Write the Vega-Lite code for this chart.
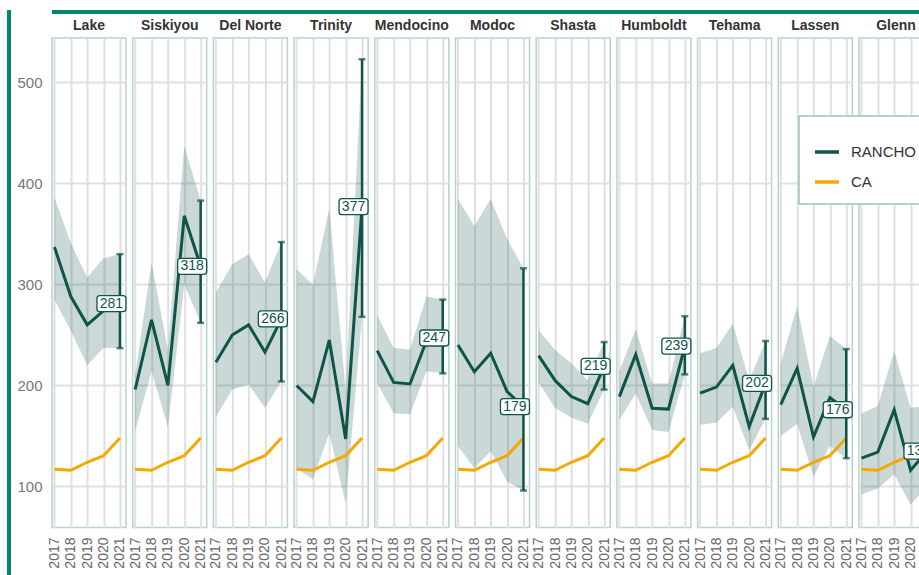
{
  "$schema": "https://vega.github.io/schema/vega-lite/v6.json",
  "background": "white",
  "padding": {"left": 7, "top": 10, "right": 0, "bottom": 0},
  "spacing": 0,
  "hconcat": [
    {
      "width": 4,
      "height": 565,
      "data": {"values": [{}]},
      "mark": {"type": "point", "opacity": 0, "size": 1},
      "view": {"fill": "#03866b", "stroke": null}
    },
    {
      "spacing": 5,
      "vconcat": [
        {
          "width": 925,
          "height": 4,
          "data": {"values": [{}]},
          "mark": {"type": "point", "opacity": 0, "size": 1},
          "view": {"fill": "#03866b", "stroke": null}
        },
        {
          "data": {"values": [
            {"county":"Lake","year":2017,"series":"RANCHO","value":337,"lo":285,"hi":386},
            {"county":"Lake","year":2018,"series":"RANCHO","value":288,"lo":254,"hi":341},
            {"county":"Lake","year":2019,"series":"RANCHO","value":260,"lo":220,"hi":307},
            {"county":"Lake","year":2020,"series":"RANCHO","value":274,"lo":237,"hi":326},
            {"county":"Lake","year":2021,"series":"RANCHO","value":281,"lo":237,"hi":330},
            {"county":"Siskiyou","year":2017,"series":"RANCHO","value":196,"lo":155,"hi":210},
            {"county":"Siskiyou","year":2018,"series":"RANCHO","value":265,"lo":214,"hi":322},
            {"county":"Siskiyou","year":2019,"series":"RANCHO","value":200,"lo":159,"hi":235},
            {"county":"Siskiyou","year":2020,"series":"RANCHO","value":368,"lo":300,"hi":437},
            {"county":"Siskiyou","year":2021,"series":"RANCHO","value":318,"lo":262,"hi":383},
            {"county":"Del Norte","year":2017,"series":"RANCHO","value":223,"lo":169,"hi":292},
            {"county":"Del Norte","year":2018,"series":"RANCHO","value":250,"lo":196,"hi":320},
            {"county":"Del Norte","year":2019,"series":"RANCHO","value":260,"lo":201,"hi":330},
            {"county":"Del Norte","year":2020,"series":"RANCHO","value":233,"lo":178,"hi":302},
            {"county":"Del Norte","year":2021,"series":"RANCHO","value":266,"lo":204,"hi":342},
            {"county":"Trinity","year":2017,"series":"RANCHO","value":200,"lo":118,"hi":315},
            {"county":"Trinity","year":2018,"series":"RANCHO","value":184,"lo":107,"hi":300},
            {"county":"Trinity","year":2019,"series":"RANCHO","value":245,"lo":153,"hi":375},
            {"county":"Trinity","year":2020,"series":"RANCHO","value":147,"lo":83,"hi":195},
            {"county":"Trinity","year":2021,"series":"RANCHO","value":377,"lo":268,"hi":523},
            {"county":"Mendocino","year":2017,"series":"RANCHO","value":234.5,"lo":202,"hi":270},
            {"county":"Mendocino","year":2018,"series":"RANCHO","value":203,"lo":172.5,"hi":237},
            {"county":"Mendocino","year":2019,"series":"RANCHO","value":201.5,"lo":171.5,"hi":235.5},
            {"county":"Mendocino","year":2020,"series":"RANCHO","value":244,"lo":214,"hi":288},
            {"county":"Mendocino","year":2021,"series":"RANCHO","value":247,"lo":212,"hi":285},
            {"county":"Modoc","year":2017,"series":"RANCHO","value":240,"lo":140,"hi":384.5},
            {"county":"Modoc","year":2018,"series":"RANCHO","value":213.6,"lo":118,"hi":358},
            {"county":"Modoc","year":2019,"series":"RANCHO","value":232,"lo":135,"hi":384.5},
            {"county":"Modoc","year":2020,"series":"RANCHO","value":194,"lo":105,"hi":345},
            {"county":"Modoc","year":2021,"series":"RANCHO","value":179,"lo":96,"hi":316},
            {"county":"Shasta","year":2017,"series":"RANCHO","value":229.5,"lo":203,"hi":255},
            {"county":"Shasta","year":2018,"series":"RANCHO","value":205,"lo":178,"hi":235},
            {"county":"Shasta","year":2019,"series":"RANCHO","value":189,"lo":168,"hi":222},
            {"county":"Shasta","year":2020,"series":"RANCHO","value":182,"lo":162,"hi":205},
            {"county":"Shasta","year":2021,"series":"RANCHO","value":219,"lo":196,"hi":243},
            {"county":"Humboldt","year":2017,"series":"RANCHO","value":189,"lo":166,"hi":214},
            {"county":"Humboldt","year":2018,"series":"RANCHO","value":230.5,"lo":192,"hi":256},
            {"county":"Humboldt","year":2019,"series":"RANCHO","value":177.5,"lo":156,"hi":202},
            {"county":"Humboldt","year":2020,"series":"RANCHO","value":176.6,"lo":154,"hi":202},
            {"county":"Humboldt","year":2021,"series":"RANCHO","value":239,"lo":211,"hi":268.5},
            {"county":"Tehama","year":2017,"series":"RANCHO","value":192.5,"lo":161,"hi":232},
            {"county":"Tehama","year":2018,"series":"RANCHO","value":198.4,"lo":163,"hi":237},
            {"county":"Tehama","year":2019,"series":"RANCHO","value":220,"lo":179,"hi":261},
            {"county":"Tehama","year":2020,"series":"RANCHO","value":159.3,"lo":136,"hi":205},
            {"county":"Tehama","year":2021,"series":"RANCHO","value":202,"lo":167,"hi":244},
            {"county":"Lassen","year":2017,"series":"RANCHO","value":181,"lo":150,"hi":222},
            {"county":"Lassen","year":2018,"series":"RANCHO","value":217,"lo":162,"hi":278.5},
            {"county":"Lassen","year":2019,"series":"RANCHO","value":149,"lo":110,"hi":199},
            {"county":"Lassen","year":2020,"series":"RANCHO","value":188,"lo":140,"hi":249},
            {"county":"Lassen","year":2021,"series":"RANCHO","value":176,"lo":128,"hi":236},
            {"county":"Glenn","year":2017,"series":"RANCHO","value":128,"lo":92,"hi":172},
            {"county":"Glenn","year":2018,"series":"RANCHO","value":134,"lo":98,"hi":180},
            {"county":"Glenn","year":2019,"series":"RANCHO","value":176,"lo":112,"hi":234},
            {"county":"Glenn","year":2020,"series":"RANCHO","value":116,"lo":82,"hi":178},
            {"county":"Glenn","year":2021,"series":"RANCHO","value":135,"lo":100,"hi":180},
            {"county":"Lake","year":2017,"series":"CA","value":117},
            {"county":"Lake","year":2018,"series":"CA","value":116},
            {"county":"Lake","year":2019,"series":"CA","value":124},
            {"county":"Lake","year":2020,"series":"CA","value":130.5},
            {"county":"Lake","year":2021,"series":"CA","value":148},
            {"county":"Siskiyou","year":2017,"series":"CA","value":117},
            {"county":"Siskiyou","year":2018,"series":"CA","value":116},
            {"county":"Siskiyou","year":2019,"series":"CA","value":124},
            {"county":"Siskiyou","year":2020,"series":"CA","value":130.5},
            {"county":"Siskiyou","year":2021,"series":"CA","value":148},
            {"county":"Del Norte","year":2017,"series":"CA","value":117},
            {"county":"Del Norte","year":2018,"series":"CA","value":116},
            {"county":"Del Norte","year":2019,"series":"CA","value":124},
            {"county":"Del Norte","year":2020,"series":"CA","value":130.5},
            {"county":"Del Norte","year":2021,"series":"CA","value":148},
            {"county":"Trinity","year":2017,"series":"CA","value":117},
            {"county":"Trinity","year":2018,"series":"CA","value":116},
            {"county":"Trinity","year":2019,"series":"CA","value":124},
            {"county":"Trinity","year":2020,"series":"CA","value":130.5},
            {"county":"Trinity","year":2021,"series":"CA","value":148},
            {"county":"Mendocino","year":2017,"series":"CA","value":117},
            {"county":"Mendocino","year":2018,"series":"CA","value":116},
            {"county":"Mendocino","year":2019,"series":"CA","value":124},
            {"county":"Mendocino","year":2020,"series":"CA","value":130.5},
            {"county":"Mendocino","year":2021,"series":"CA","value":148},
            {"county":"Modoc","year":2017,"series":"CA","value":117},
            {"county":"Modoc","year":2018,"series":"CA","value":116},
            {"county":"Modoc","year":2019,"series":"CA","value":124},
            {"county":"Modoc","year":2020,"series":"CA","value":130.5},
            {"county":"Modoc","year":2021,"series":"CA","value":148},
            {"county":"Shasta","year":2017,"series":"CA","value":117},
            {"county":"Shasta","year":2018,"series":"CA","value":116},
            {"county":"Shasta","year":2019,"series":"CA","value":124},
            {"county":"Shasta","year":2020,"series":"CA","value":130.5},
            {"county":"Shasta","year":2021,"series":"CA","value":148},
            {"county":"Humboldt","year":2017,"series":"CA","value":117},
            {"county":"Humboldt","year":2018,"series":"CA","value":116},
            {"county":"Humboldt","year":2019,"series":"CA","value":124},
            {"county":"Humboldt","year":2020,"series":"CA","value":130.5},
            {"county":"Humboldt","year":2021,"series":"CA","value":148},
            {"county":"Tehama","year":2017,"series":"CA","value":117},
            {"county":"Tehama","year":2018,"series":"CA","value":116},
            {"county":"Tehama","year":2019,"series":"CA","value":124},
            {"county":"Tehama","year":2020,"series":"CA","value":130.5},
            {"county":"Tehama","year":2021,"series":"CA","value":148},
            {"county":"Lassen","year":2017,"series":"CA","value":117},
            {"county":"Lassen","year":2018,"series":"CA","value":116},
            {"county":"Lassen","year":2019,"series":"CA","value":124},
            {"county":"Lassen","year":2020,"series":"CA","value":130.5},
            {"county":"Lassen","year":2021,"series":"CA","value":148},
            {"county":"Glenn","year":2017,"series":"CA","value":117},
            {"county":"Glenn","year":2018,"series":"CA","value":116},
            {"county":"Glenn","year":2019,"series":"CA","value":124},
            {"county":"Glenn","year":2020,"series":"CA","value":130.5},
            {"county":"Glenn","year":2021,"series":"CA","value":148}
          ]},
          "facet": {
            "column": {
              "field": "county",
              "type": "nominal",
              "sort": ["Lake","Siskiyou","Del Norte","Trinity","Mendocino","Modoc","Shasta","Humboldt","Tehama","Lassen","Glenn"],
              "header": {"title": null, "labelFontSize": 14, "labelFontWeight": "bold", "labelColor": "#333333", "labelPadding": 5, "labelFont": "Liberation Sans"}
            }
          },
          "spacing": 6.7,
          "bounds": "flush",
          "spec": {
            "width": 74,
            "height": 489.5,
            "encoding": {
              "x": {
                "field": "year", "type": "quantitative",
                "scale": {"domain": [2016.85, 2021.37], "nice": false, "zero": false},
                "axis": {"values": [2017, 2018, 2019, 2020, 2021], "format": "d", "labelAngle": -90, "labelFontSize": 14, "labelColor": "#666666", "labelPadding": 9, "title": null}
              }
            },
            "layer": [
              {
                "transform": [{"filter": "datum.series === 'RANCHO'"}],
                "mark": {"type": "area", "color": "#0f5449", "opacity": 0.22},
                "encoding": {
                  "y": {"field": "lo", "type": "quantitative", "scale": {"domain": [59.4, 544], "nice": false, "zero": false},
                        "axis": {"values": [100, 200, 300, 400, 500], "labelFontSize": 15, "labelColor": "#777777", "labelPadding": 10, "minExtent": 40.5, "title": null}},
                  "y2": {"field": "hi"}
                }
              },
              {
                "mark": {"type": "line", "strokeWidth": 3},
                "encoding": {
                  "y": {"field": "value", "type": "quantitative"},
                  "color": {"field": "series", "type": "nominal",
                            "scale": {"domain": ["RANCHO", "CA"], "range": ["#0f5449", "#f4a900"]},
                            "legend": {"title": " ", "orient": "none", "legendX": 792, "legendY": 106}}
                }
              },
              {
                "transform": [{"filter": "datum.series === 'RANCHO' && datum.year === 2021"}],
                "mark": {"type": "errorbar", "color": "#0f5449", "thickness": 2.5, "ticks": {"size": 7, "thickness": 2.5, "color": "#0f5449"}, "rule": {"strokeWidth": 2.5, "color": "#0f5449"}},
                "encoding": {
                  "y": {"field": "lo", "type": "quantitative"},
                  "y2": {"field": "hi"}
                }
              },
              {
                "transform": [{"filter": "datum.series === 'RANCHO' && datum.year === 2021"}],
                "mark": {"type": "point", "filled": true, "fill": "white", "stroke": "#0f5449", "strokeWidth": 1.3, "opacity": 1, "size": 841, "xOffset": -8.5,
                         "shape": "M-0.8,-0.552 L0.8,-0.552 Q1,-0.552 1,-0.352 L1,0.352 Q1,0.552 0.8,0.552 L-0.8,0.552 Q-1,0.552 -1,0.352 L-1,-0.352 Q-1,-0.552 -0.8,-0.552 Z"},
                "encoding": {
                  "y": {"field": "value", "type": "quantitative"}
                }
              },
              {
                "transform": [{"filter": "datum.series === 'RANCHO' && datum.year === 2021"}],
                "mark": {"type": "text", "fontSize": 14, "color": "#0f5449", "xOffset": -8.5, "align": "center", "baseline": "middle"},
                "encoding": {
                  "y": {"field": "value", "type": "quantitative"},
                  "text": {"field": "value", "type": "quantitative", "format": "d"}
                }
              }
            ]
          }
        }
      ]
    }
  ],
  "config": {
    "font": "Liberation Sans",
    "view": {"stroke": "#b7d4ca", "strokeWidth": 1.5},
    "axis": {"ticks": false, "domain": false, "grid": true, "gridColor": "#e0e0e0", "gridWidth": 2, "labelFont": "Liberation Sans"},
    "legend": {
      "fillColor": "white", "strokeColor": "#9cc4b6", "strokeWidth": 1.5, "padding": 14,
      "symbolType": "stroke", "symbolSize": 576, "symbolStrokeWidth": 3.5,
      "labelFontSize": 15, "labelColor": "#333333", "labelOffset": 10, "rowPadding": 8,
      "titleFontSize": 6, "titlePadding": 2
    }
  }
}
